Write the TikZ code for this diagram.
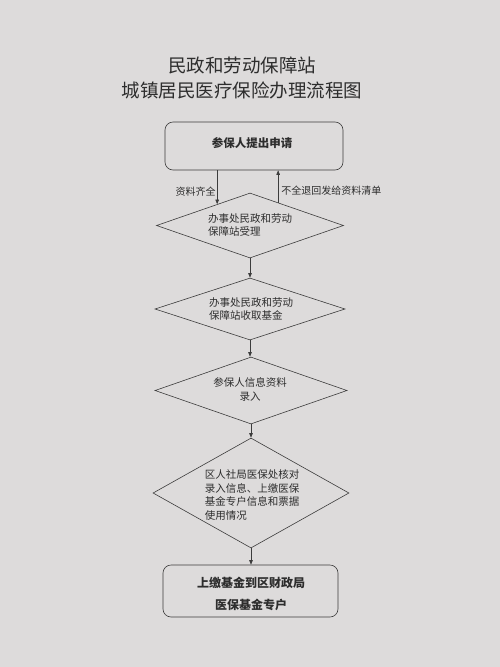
\documentclass[tikz,border=0pt]{standalone}
\usepackage{fontspec}
\setmainfont{Noto Sans CJK SC}
\usetikzlibrary{shapes.geometric,arrows.meta,calc}
\definecolor{paper}{RGB}{221,219,219}
\definecolor{ink}{RGB}{60,60,60}
\definecolor{txt}{RGB}{45,45,45}
\begin{document}
\begin{tikzpicture}[x=1pt,y=-1pt,
  line width=0.6pt,
  boxst/.style={draw=ink,rounded corners=8pt,inner sep=0pt},
  diast/.style={draw=ink,shape=diamond,inner sep=0pt},
  dtext/.style={text=txt,font=\fontsize{10.5}{13.5}\selectfont,inner sep=0pt},
  btext/.style={text=txt,font=\fontsize{11.5}{22}\selectfont\bfseries,inner sep=0pt,align=center},
  lbl/.style={text=txt,font=\fontsize{10}{12}\selectfont,inner sep=0pt},
  arr/.style={draw=ink,-{Triangle[length=4.5pt,width=3.5pt]}}]
\fill[paper] (0,0) rectangle (500,667);
\useasboundingbox (0,0) rectangle (500,667);
% title
\node[text=txt,font=\fontsize{18.5}{25}\selectfont,align=center,inner sep=0pt] (title) at (242,77.5)
  {民政和劳动保障站\\城镇居民医疗保险办理流程图};
% shapes
\node[boxst,minimum width=178pt,minimum height=48pt] (b1) at (254,146) {};
\node[btext] (b1t) at (252,143) {参保人提出申请};
\node[diast,minimum width=187pt,minimum height=65pt] (d1) at (250,225.5) {};
\node[dtext,align=left] (d1t) at (250,225) {办事处民政和劳动\\保障站受理};
\node[diast,minimum width=190pt,minimum height=62pt] (d2) at (250,309) {};
\node[dtext,align=left] (d2t) at (251,309) {办事处民政和劳动\\保障站收取基金};
\node[diast,minimum width=192pt,minimum height=67pt] (d3) at (251,390.5) {};
\node[dtext,align=center] (d3t) at (250,389.5) {参保人信息资料\\录入};
\node[diast,minimum width=196pt,minimum height=110pt] (d4) at (251,493) {};
\node[dtext,align=left] (d4t) at (252,495) {区人社局医保处核对\\录入信息、上缴医保\\基金专户信息和票据\\使用情况};
\node[boxst,minimum width=175pt,minimum height=52pt] (b2) at (250.5,591) {};
\node[btext,font=\fontsize{12}{22}\selectfont\bfseries] (b2t) at (251,594) {上缴基金到区财政局\\医保基金专户};
% connectors
\coordinate (p1) at ($(d1.north)!0.35!(d1.west)$);
\coordinate (p2) at ($(d1.north)!0.30!(d1.east)$);
\draw[arr] (b1.south -| p1) -- (p1);
\draw[arr] (p2) -- (b1.south -| p2);
\node[lbl,anchor=east] (l1) at (216,192) {资料齐全};
\node[lbl,anchor=west] (l2) at (281,191) {不全退回发给资料清单};
\draw[arr] (d1.south) -- (d2.north);
\draw[arr] (d2.south) -- (d2.south |- d3.north);
\draw[arr] (d3.south) -- (d4.north);
\draw[arr] (d4.south) -- (d4.south |- b2.north);
\end{tikzpicture}
\end{document}
